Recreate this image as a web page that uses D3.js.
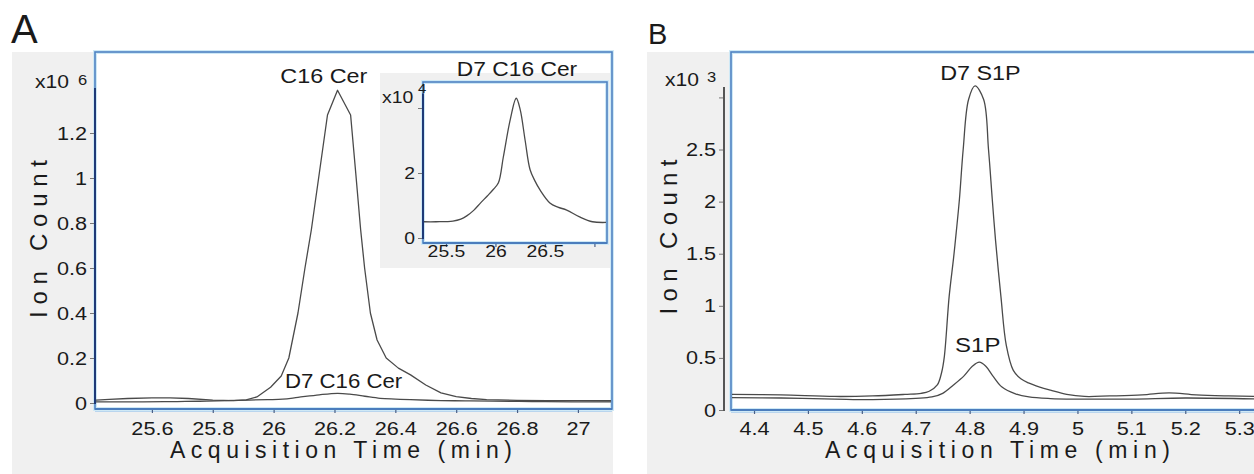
<!DOCTYPE html>
<html>
<head>
<meta charset="utf-8">
<script src="https://cdn.jsdelivr.net/npm/d3@7"></script>
<style>
  html, body { margin: 0; padding: 0; background: #fff; overflow: hidden; }
  svg { display: block; }
  text { font-family: "Liberation Sans", Arial, sans-serif; fill: #1a1a1a; }
</style>
</head>
<body>
<svg id="chart" width="1254" height="474"></svg>
<script>
// ---- Panel A: ceramide chromatograms (counts x10^6) ----
const cerTime = [25.41, 25.46, 25.52, 25.6, 25.66, 25.72, 25.8, 25.87, 25.91, 25.945, 25.99, 26.025, 26.05, 26.08, 26.103, 26.124, 26.15, 26.177, 26.21, 26.253, 26.27, 26.286, 26.299, 26.318, 26.34, 26.37, 26.41, 26.45, 26.5, 26.55, 26.6, 26.65, 26.7, 26.8, 26.9, 27.0, 27.12];
const c16Cer  = [0.012, 0.016, 0.02, 0.023, 0.023, 0.02, 0.013, 0.011, 0.014, 0.027, 0.07, 0.12, 0.2, 0.4, 0.6, 0.77, 1.02, 1.28, 1.39, 1.28, 1.02, 0.77, 0.6, 0.4, 0.28, 0.2, 0.155, 0.125, 0.08, 0.045, 0.028, 0.02, 0.015, 0.012, 0.01, 0.011, 0.01];

// internal standard, counts x10^4
const d7Time = [25.27, 25.4, 25.57, 25.65, 25.71, 25.78, 25.85, 25.92, 25.98, 26.03, 26.08, 26.15, 26.21, 26.25, 26.3, 26.35, 26.4, 26.45, 26.55, 26.63, 26.72, 26.85, 26.98, 27.13];
const d7Cer  = [0.5, 0.5, 0.52, 0.58, 0.68, 0.85, 1.08, 1.3, 1.5, 1.7, 2.5, 3.65, 4.3, 3.95, 3.0, 2.1, 1.75, 1.48, 1.08, 0.95, 0.86, 0.65, 0.5, 0.48];

const cerXTicks   = [25.6, 25.8, 26, 26.2, 26.4, 26.6, 26.8, 27];
const cerYTicks   = [0, 0.2, 0.4, 0.6, 0.8, 1, 1.2];
const insetXTicks = [25.5, 26, 26.5, 27];
const insetYTicks = [0, 2, 4];

// ---- Panel B: sphingosine-1-phosphate chromatograms (counts x10^3) ----
const d7S1PTime = [4.357, 4.45, 4.55, 4.62, 4.68, 4.71, 4.725, 4.74, 4.748, 4.753, 4.762, 4.77, 4.775, 4.781, 4.788, 4.798, 4.81, 4.826, 4.835, 4.842, 4.848, 4.858, 4.868, 4.881, 4.895, 4.909, 4.93, 4.95, 4.98, 5.013, 5.06, 5.12, 5.17, 5.22, 5.28, 5.34];
const d7S1P     = [0.15, 0.145, 0.13, 0.135, 0.15, 0.16, 0.18, 0.24, 0.36, 0.51, 1.09, 1.45, 1.7, 2.02, 2.5, 2.98, 3.11, 2.98, 2.5, 2.02, 1.63, 1.09, 0.62, 0.38, 0.3, 0.26, 0.22, 0.19, 0.15, 0.13, 0.135, 0.145, 0.165, 0.145, 0.135, 0.13];
const s1pTime = [4.357, 4.45, 4.55, 4.62, 4.7, 4.73, 4.75, 4.77, 4.79, 4.805, 4.818, 4.83, 4.844, 4.86, 4.885, 4.91, 4.95, 5.0, 5.1, 5.2, 5.34];
const s1p     = [0.118, 0.115, 0.105, 0.1, 0.112, 0.125, 0.16, 0.24, 0.33, 0.42, 0.46, 0.42, 0.32, 0.22, 0.155, 0.125, 0.11, 0.105, 0.105, 0.115, 0.105];

const s1pXTicks = [4.4, 4.5, 4.6, 4.7, 4.8, 4.9, 5, 5.1, 5.2, 5.3];
const s1pYTicks = [0, 0.5, 1, 1.5, 2, 2.5, 3];

const svg = d3.select("#chart");
const STRETCH = 1.14;
const fmt = d => String(+d.toFixed(2));
const traceColor = "#4a4a4a";
const smooth = d3.curveCatmullRom.alpha(0.5);

// glyphs in this figure are set slightly wide; scale text horizontally about its anchor
function widen(sel, k) {
  sel.each(function () {
    const t = d3.select(this);
    const x = +t.attr("x") || 0, y = +t.attr("y") || 0;
    t.attr("x", null).attr("y", null)
     .attr("transform", `translate(${x},${y}) scale(${k},1)`);
  });
}
function label(g, txt, x, y, size, anchor, k = STRETCH) {
  return g.append("text").attr("x", x).attr("y", y)
    .attr("font-size", size).attr("text-anchor", anchor || "middle")
    .text(txt).call(widen, k);
}
function frame(g, x, y, w, h) {
  g.append("rect").attr("x", x).attr("y", y).attr("width", w).attr("height", h)
    .attr("fill", "#fff").attr("stroke", "#cfe9f6").attr("stroke-width", 4);
  g.append("rect").attr("x", x).attr("y", y).attr("width", w).attr("height", h)
    .attr("fill", "none").attr("stroke", "#4f83c2").attr("stroke-width", 1.6);
}
function bottomAxis(g, scale, ticks, yPos, fontSize, baseline, xEnd) {
  const x0 = scale.range()[0];
  g.append("line").attr("x1", x0).attr("x2", xEnd)
    .attr("y1", yPos + 2.5).attr("y2", yPos + 2.5).attr("stroke", "#b9d5ee").attr("stroke-width", 1.2);
  const ax = g.append("g").attr("transform", `translate(0,${yPos})`)
    .call(d3.axisBottom(scale).tickValues(ticks).tickSize(4).tickFormat(fmt));
  ax.attr("font-family", null);
  ax.select(".domain").remove();
  ax.selectAll(".tick line").attr("stroke", "#4a5f86").attr("stroke-width", 1.2);
  ax.selectAll(".tick text").attr("font-size", fontSize).attr("fill", "#1a1a1a")
    .attr("dy", null).attr("y", baseline - yPos).call(widen, STRETCH);
  g.append("line").attr("x1", x0).attr("x2", xEnd)
    .attr("y1", yPos).attr("y2", yPos).attr("stroke", "#4b7dbd").attr("stroke-width", 2);
}
function leftAxis(g, scale, ticks, xPos, fontSize, lineColor, topVal, tickFmt) {
  const ax = g.append("g").attr("transform", `translate(${xPos},0)`)
    .call(d3.axisLeft(scale).tickValues(ticks).tickSize(5).tickPadding(3).tickFormat(tickFmt || fmt));
  ax.attr("font-family", null);
  ax.select(".domain").remove();
  ax.selectAll(".tick line").attr("stroke", "#777").attr("stroke-width", 1);
  ax.selectAll(".tick text").attr("font-size", fontSize).attr("fill", "#1a1a1a").call(widen, STRETCH);
  g.append("line").attr("x1", xPos).attr("x2", xPos)
    .attr("y1", scale(0) + 1).attr("y2", scale(topVal))
    .attr("stroke", lineColor).attr("stroke-width", 2);
}
function trace(g, clipId, xs, ts, vs, curve) {
  const line = d3.line().x((d, i) => xs(ts[i])).y(d => d).curve(curve);
  g.append("path").attr("clip-path", `url(#${clipId})`)
    .attr("d", line(vs))
    .attr("fill", "none").attr("stroke", traceColor).attr("stroke-width", 1.3)
    .attr("stroke-linejoin", "round");
}
const defs = svg.append("defs");
function clip(id, x, y, w, h) {
  defs.append("clipPath").attr("id", id).append("rect")
    .attr("x", x).attr("y", y).attr("width", w).attr("height", h);
}
function axisTitle(g, txt, x, y, len) {
  g.append("text").attr("x", x).attr("y", y).attr("font-size", 23)
    .attr("textLength", len).attr("lengthAdjust", "spacing").text(txt);
}
function yTitle(g, txt, x, y, len) {
  g.append("text").attr("transform", `translate(${x},${y}) rotate(-90)`).attr("font-size", 24)
    .attr("text-anchor", "middle").attr("textLength", len).attr("lengthAdjust", "spacing").text(txt);
}

// ================= Panel A =================
const gA = svg.append("g");
gA.append("rect").attr("x", 12).attr("y", 52).attr("width", 601).attr("height", 422).attr("fill", "#f0f0f0");
label(gA, "A", 11, 43, 40, "start", 1.0);

const xA = d3.scaleLinear().domain([25.413, 27.112]).range([95, 612]);
const yA = d3.scaleLinear().domain([0, 1.4]).range([403, 88]);
frame(gA, 95, 52, 517, 357);
clip("clipA", 96, 53, 515, 355);

// acquisition points of the analyte trace are joined straight, as acquired
trace(gA, "clipA", xA, cerTime, c16Cer.map(v => yA(v)), d3.curveLinear);
trace(gA, "clipA", xA, d7Time, d7Cer.map(v => yA(v / 100)), smooth);

leftAxis(gA, yA, cerYTicks, 95, 19, "#1f3a78", 1.4);
bottomAxis(gA, xA, cerXTicks, 409, 19, 435, 612);

label(gA, "x10", 35, 88, 18.5, "start");
label(gA, "6", 78, 85, 14.5, "start");
label(gA, "C16 Cer", xA(26.165), 83, 20.5);
label(gA, "D7 C16 Cer", xA(26.23), 388, 19.5);

axisTitle(gA, "Acquisition Time (min)", 170, 458, 342);
yTitle(gA, "Ion Count", 47, 239, 158);

// inset: internal standard alone
const gI = gA.append("g");
gI.append("rect").attr("x", 380).attr("y", 73).attr("width", 230).attr("height", 195).attr("fill", "#f0f0f0");
const xI = d3.scaleLinear().domain([25.268, 27.127]).range([423, 607]);
const yI = d3.scaleLinear().domain([0, 4.8]).range([238, 82]);
frame(gI, 423, 82, 184, 161);
clip("clipI", 424, 83, 182, 159);
trace(gI, "clipI", xI, d7Time, d7Cer.map(v => yI(v)), smooth);
leftAxis(gI, yI, insetYTicks, 423, 17, "#1f3a78", 4.45, d => d === 4 ? "" : fmt(d));
{
  const ax = gI.append("g").attr("transform", "translate(0,243)")
    .call(d3.axisBottom(xI).tickValues(insetXTicks).tickSize(4).tickFormat(d => d === 27 ? "" : fmt(d)));
  ax.attr("font-family", null);
  ax.select(".domain").remove();
  ax.selectAll(".tick line").attr("stroke", "#4a5f86").attr("stroke-width", 1.2);
  ax.selectAll(".tick text").attr("font-size", 17).attr("fill", "#1a1a1a")
    .attr("dy", null).attr("y", 14).call(widen, STRETCH);
  gI.append("line").attr("x1", 423).attr("x2", 607).attr("y1", 243).attr("y2", 243)
    .attr("stroke", "#4b7dbd").attr("stroke-width", 2);
}
label(gI, "x10", 382, 103, 17, "start");
label(gI, "4", 418, 93, 13, "start");
label(gI, "D7 C16 Cer", 517, 76, 20);

// ================= Panel B =================
const gB = svg.append("g");
gB.append("rect").attr("x", 647).attr("y", 52).attr("width", 620).attr("height", 422).attr("fill", "#f0f0f0");
label(gB, "B", 648, 44, 29, "start", 1.0);

const xB = d3.scaleLinear().domain([4.3573, 5.3275]).range([731, 1254]);
const yB = d3.scaleLinear().domain([0, 3.1]).range([410, 87]);
frame(gB, 731, 52, 560, 358);
clip("clipB", 732, 53, 540, 356);

trace(gB, "clipB", xB, d7S1PTime, d7S1P.map(v => yB(v)), smooth);
trace(gB, "clipB", xB, s1pTime, s1p.map(v => yB(v)), smooth);

leftAxis(gB, yB, s1pYTicks, 724, 19, "#555", 3.1, d => d === 3 ? "" : fmt(d));
bottomAxis(gB, xB, s1pXTicks, 410, 19, 435, 1260);

label(gB, "x10", 665, 86, 18.5, "start");
label(gB, "3", 707, 82, 14.5, "start");
label(gB, "D7 S1P", xB(4.82), 80, 20.5);
label(gB, "S1P", xB(4.815), 352, 21);

axisTitle(gB, "Acquisition Time (min)", 825, 458, 345);
yTitle(gB, "Ion Count", 677, 237, 155);
</script>
</body>
</html>
